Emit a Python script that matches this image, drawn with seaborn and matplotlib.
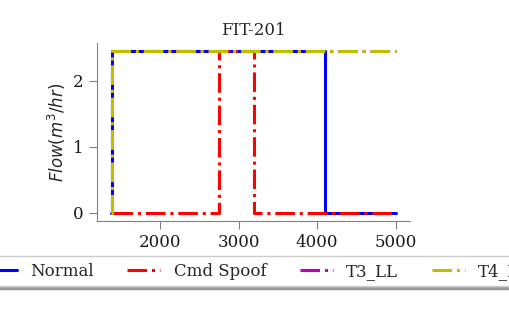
import numpy as np
import pandas as pd
import seaborn as sns
import matplotlib.pyplot as plt

# step change points (time, flow) for each scenario
normal_t = [1380, 1390, 4100, 5000]
normal_y = [0.0, 2.45, 0.0, 0.0]

spoof_t = [1400, 2750, 3200, 5000]
spoof_y = [0.0, 2.45, 0.0, 0.0]

t3_t = [1380, 1390, 5000]
t3_y = [0.0, 2.45, 2.45]

t4_t = [1380, 1390, 5000]
t4_y = [0.0, 2.45, 2.45]

labels = ["Normal", "Cmd Spoof", "T3_LL", "T4_HH"]
colors = ["b", "r", "m", "y"]
styles = ["-", "-.", "-.", "-."]

sns.set_style("ticks")
plt.rcParams['font.family'] = ['DejaVu Serif']
plt.rcParams['font.size'] = 12

fig = plt.figure(figsize=(5.09, 3.15), dpi=100)
ax = fig.add_axes([0.1906, 0.2984, 0.6149, 0.5651])

series = [(normal_t, normal_y), (spoof_t, spoof_y), (t3_t, t3_y), (t4_t, t4_y)]
for (t, y), lab, c, ls in zip(series, labels, colors, styles):
    df = pd.DataFrame({"t": t, "flow": y})
    sns.lineplot(data=df, x="t", y="flow", ax=ax, color=c, linestyle=ls,
                 linewidth=2.2, drawstyle="steps-post", label=lab,
                 estimator=None, sort=False, legend=False)

ax.set_title("FIT-201", fontsize=12)
ax.set_xlabel("")
ax.set_ylabel(r"$Flow(m^3/hr)$", fontsize=12)
ax.set_xticks([2000, 3000, 4000, 5000])
ax.set_yticks([0, 1, 2])
ax.tick_params(colors="0.5", labelcolor="0.1", labelsize=12, length=6)
for s in ["left", "bottom"]:
    ax.spines[s].set_color("0.5")
sns.despine(ax=ax)

handles, labs = ax.get_legend_handles_labels()
fig.legend(handles, labs, loc="upper left", bbox_to_anchor=(-0.046, 0.187),
           ncol=4, borderaxespad=0, shadow=True, fancybox=False, fontsize=12)

fig.savefig("out.png", dpi=100)
